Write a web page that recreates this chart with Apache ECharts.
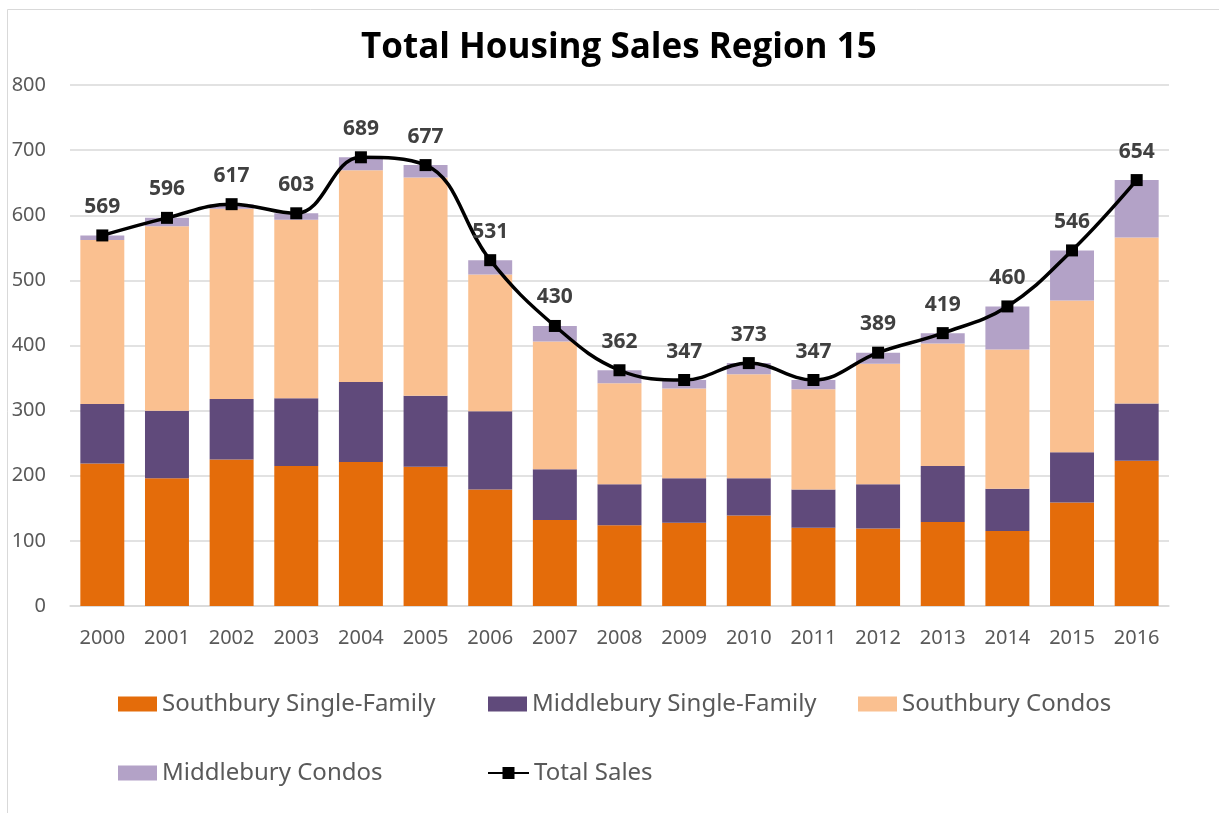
<!DOCTYPE html>
<html>
<head>
<meta charset="utf-8">
<script src="https://cdn.jsdelivr.net/npm/echarts@6/dist/echarts.min.js"></script>
<style>
  html, body { margin: 0; padding: 0; background: #fff; }
  #chart { width: 1219px; height: 813px; }
</style>
</head>
<body>
<div id="chart"></div>
<script>
// years on the x axis
const years = ["2000", "2001", "2002", "2003", "2004", "2005", "2006", "2007", "2008",
  "2009", "2010", "2011", "2012", "2013", "2014", "2015", "2016"];
// stacked segments
const southburySF = [219, 196, 225, 215, 221, 214, 179, 132, 124, 128, 139, 120, 119, 129, 115, 159, 223];
const middleburySF = [91, 104, 93, 104, 123, 109, 120, 78, 63, 68, 57, 59, 68, 86, 65, 77, 88];
const southburyCondos = [252, 283, 292, 274, 325, 335, 210, 196, 155, 138, 160, 154, 185, 188, 214, 233, 255];
const middleburyCondos = [7, 13, 7, 10, 20, 19, 22, 24, 20, 13, 17, 14, 17, 16, 66, 77, 88];
// totals as labelled on the line
const totalSales = [569, 596, 617, 603, 689, 677, 531, 430, 362, 347, 373, 347, 389, 419, 460, 546, 654];

const textFont = "Noto Sans";

function barSeries(name, data, color) {
  return {
    name: name,
    type: "bar",
    stack: "sales",
    data: data,
    barCategoryGap: "32%",
    itemStyle: { color: color },
    emphasis: { disabled: true }
  };
}

function oneLegend(name, left, top, icon, w) {
  return {
    data: [name],
    left: left,
    top: top,
    padding: 0,
    icon: icon,
    itemWidth: w,
    itemHeight: 15,
    itemGap: 5,
    selectedMode: false,
    textStyle: { fontFamily: textFont, fontSize: 24, color: "#595959" }
  };
}

const chart = echarts.init(document.getElementById("chart"), null, { renderer: "canvas" });
chart.setOption({
  animation: false,
  backgroundColor: "#fff",
  title: {
    text: "Total Housing Sales Region 15",
    left: 361,
    top: 31,
    padding: 0,
    textStyle: { fontFamily: "Open Sans", fontWeight: "bold", fontSize: 35, color: "#000" }
  },
  graphic: [{
    type: "rect",
    shape: { x: 7.5, y: 9.5, width: 1300, height: 900 },
    style: { fill: null, stroke: "#d9d9d9", lineWidth: 1 },
    silent: true
  }],
  legend: [
    oneLegend("Southbury Single-Family", 118, 692, "rect", 39),
    oneLegend("Middlebury Single-Family", 488, 692, "rect", 39),
    oneLegend("Southbury Condos", 858, 692, "rect", 39),
    oneLegend("Middlebury Condos", 118, 761, "rect", 39),
    oneLegend("Total Sales", 487, 761, undefined, 41)
  ],
  grid: { left: 70, right: 50, top: 85, bottom: 207 },
  xAxis: {
    type: "category",
    data: years,
    axisLine: { lineStyle: { color: "#d9d9d9", width: 1.5 } },
    axisTick: { show: false },
    axisLabel: { fontFamily: textFont, fontSize: 20, color: "#595959", margin: 22 }
  },
  yAxis: {
    type: "value",
    min: 0,
    max: 800,
    interval: 100,
    axisLine: { show: false },
    axisTick: { show: false },
    splitLine: { lineStyle: { color: "#d9d9d9", width: 1.5 } },
    axisLabel: { fontFamily: textFont, fontSize: 20, color: "#595959", margin: 24 }
  },
  series: [
    barSeries("Southbury Single-Family", southburySF, "#E46C0A"),
    barSeries("Middlebury Single-Family", middleburySF, "#604A7B"),
    barSeries("Southbury Condos", southburyCondos, "#FAC090"),
    barSeries("Middlebury Condos", middleburyCondos, "#B3A2C7"),
    {
      name: "Total Sales",
      type: "line",
      data: totalSales,
      smooth: 0.4,
      symbol: "rect",
      symbolSize: 12,
      z: 5,
      lineStyle: { color: "#000", width: 3.5 },
      itemStyle: { color: "#000" },
      label: {
        show: true,
        position: "top",
        distance: 12,
        fontFamily: textFont,
        fontWeight: "bold",
        fontSize: 21,
        color: "#404040"
      },
      emphasis: { disabled: true }
    }
  ]
});
</script>
</body>
</html>
